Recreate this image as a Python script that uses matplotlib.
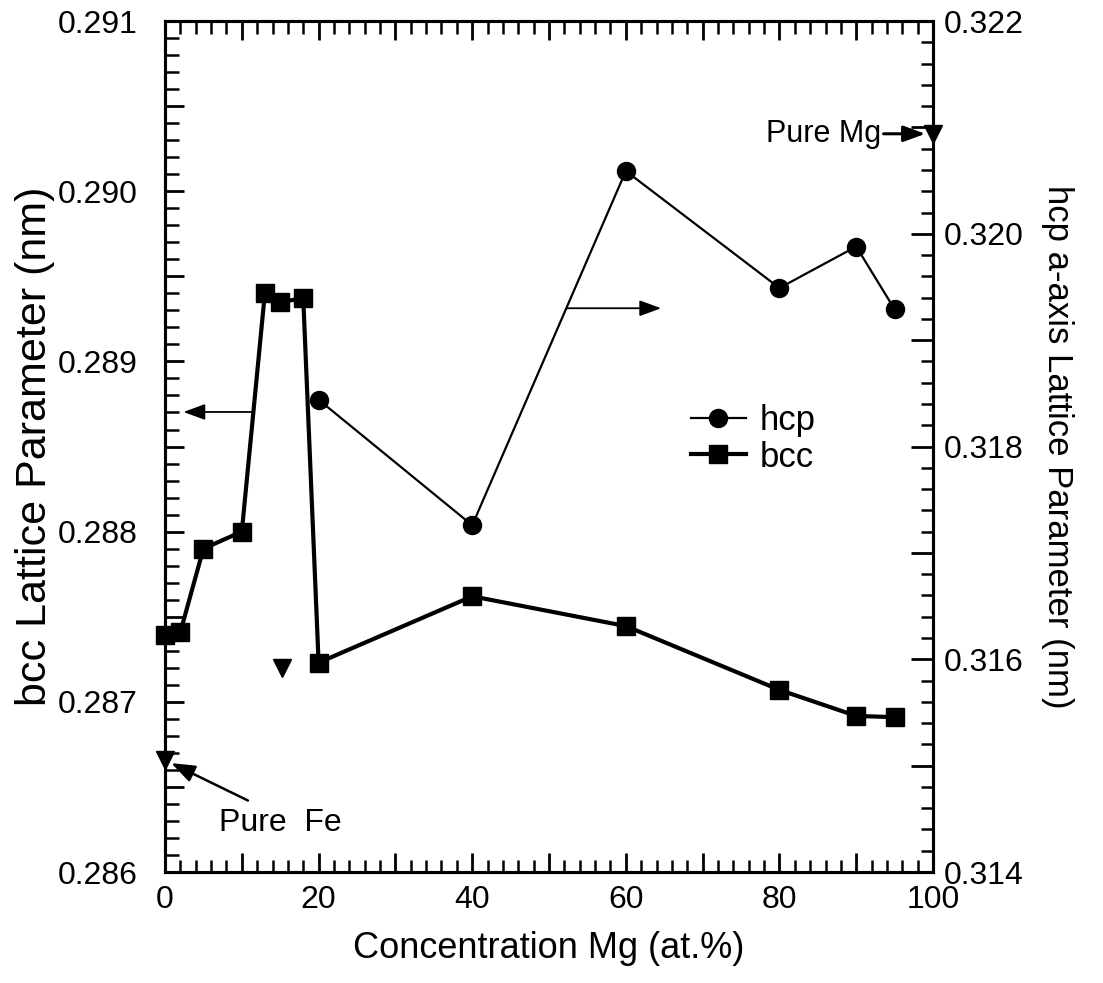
import matplotlib
matplotlib.use("Agg")
import matplotlib.pyplot as plt
from matplotlib.ticker import MultipleLocator, FuncFormatter

plt.rcParams['font.family'] = ['Liberation Sans', 'DejaVu Sans']

# bcc lattice parameter (left axis, nm)
bcc_conc = [0, 2, 5, 10, 13, 15, 18, 20, 40, 60, 80, 90, 95]
bcc_a = [0.28739, 0.28741, 0.28790, 0.28800, 0.28940, 0.28935, 0.28937,
         0.28723, 0.28762, 0.287445, 0.28707, 0.286917, 0.28691]

# hcp a-axis lattice parameter (right axis, nm)
hcp_conc = [20, 40, 60, 80, 90, 95]
hcp_a = [0.31844, 0.31726, 0.32059, 0.31949, 0.31988, 0.31929]

# reference values for the pure metals and an extra bcc point
pure_fe = (0, 0.28666)
pure_mg = (100, 0.32094)
extra_bcc = (15.2, 0.28720)

x_labels = [0, 20, 40, 60, 80, 100]
bcc_labels = [0.286, 0.287, 0.288, 0.289, 0.290, 0.291]

rect = [0.1496, 0.1129, 0.6963, 0.8657]
fig = plt.figure(figsize=(11.03, 9.83), dpi=100)
ax = fig.add_axes(rect)
ax2 = ax.twinx()

ax.set_xlim(0, 100)
ax.set_ylim(0.286, 0.291)
ax2.set_ylim(0.314, 0.322)

# bcc series
ax.plot(bcc_conc, bcc_a, color='black', lw=3.0, marker='s', ms=13,
        clip_on=False, zorder=3, label='bcc')
ax.plot([extra_bcc[0]], [extra_bcc[1]], marker='v', ms=13, color='black',
        ls='none', clip_on=False)
ax.plot([pure_fe[0]], [pure_fe[1]], marker='v', ms=13, color='black',
        ls='none', clip_on=False, zorder=4)

# hcp series
ax2.plot(hcp_conc, hcp_a, color='black', lw=1.6, marker='o', ms=13,
         clip_on=False, zorder=3, label='hcp')
ax2.plot([pure_mg[0]], [pure_mg[1]], marker='v', ms=13, color='black',
         ls='none', clip_on=False, zorder=4)

head = '-|>,head_length=0.6,head_width=0.22'

# axis-indicating arrows
ax.annotate('', xy=(2.4, 0.288703), xytext=(11.4, 0.288703),
            arrowprops=dict(arrowstyle=head, color='black', lw=1.3,
                            mutation_scale=22, shrinkA=0, shrinkB=0))
ax2.annotate('', xy=(64.6, 0.31930), xytext=(52.3, 0.31930),
             arrowprops=dict(arrowstyle=head, color='black', lw=1.3,
                             mutation_scale=22, shrinkA=0, shrinkB=0))

# pure metal labels
ax.text(7.0, 0.28629, 'Pure  Fe', fontsize=23, ha='left', va='center')
ax.annotate('', xy=(0.8, 0.28664), xytext=(10.8, 0.28642),
            arrowprops=dict(arrowstyle=head, color='black', lw=1.8,
                            mutation_scale=24, shrinkA=0, shrinkB=0))
ax2.annotate('Pure Mg', xy=(99.0, pure_mg[1]), xytext=(93.2, pure_mg[1]),
             fontsize=22, ha='right', va='center',
             arrowprops=dict(arrowstyle=head, color='black', lw=2.2,
                             mutation_scale=22, shrinkA=0, shrinkB=0))

# ticks: labelled majors, unlabelled half-steps, fine minors
def every(step, fmt):
    def f(v, pos):
        r = v / step
        return fmt.format(v) if abs(r - round(r)) < 1e-6 else ''
    return FuncFormatter(f)

ax.xaxis.set_major_locator(MultipleLocator(10))
ax.xaxis.set_minor_locator(MultipleLocator(2))
ax.xaxis.set_major_formatter(every(20, '{:.0f}'))
ax.yaxis.set_major_locator(MultipleLocator(0.0005))
ax.yaxis.set_minor_locator(MultipleLocator(0.0001))
ax.yaxis.set_major_formatter(every(0.001, '{:.3f}'))
ax2.yaxis.set_major_locator(MultipleLocator(0.001))
ax2.yaxis.set_minor_locator(MultipleLocator(0.0002))
ax2.yaxis.set_major_formatter(every(0.002, '{:.3f}'))

ax.tick_params(axis='x', which='both', direction='in', top=True, bottom=True,
               labelsize=23, pad=9)
ax.tick_params(axis='x', which='major', length=14, width=2)
ax.tick_params(axis='x', which='minor', length=9, width=1.8)
ax.tick_params(axis='y', which='both', direction='in', left=True, right=False,
               labelsize=23, pad=20)
ax.tick_params(axis='y', which='major', length=14, width=2)
ax.tick_params(axis='y', which='minor', length=10, width=1.8)
ax2.tick_params(axis='y', which='both', direction='in', right=True,
                labelsize=23, pad=8)
ax2.tick_params(axis='y', which='major', length=16, width=2)
ax2.tick_params(axis='y', which='minor', length=9, width=1.8)

# longer ticks at the labelled positions
ax3 = fig.add_axes(rect, frameon=False, zorder=-1)
ax3.set_xlim(ax.get_xlim())
ax3.set_ylim(ax.get_ylim())
ax3.set_xticks(x_labels)
ax3.set_yticks(bcc_labels)
ax3.tick_params(axis='both', direction='in', length=19, width=2,
                top=True, bottom=True, left=True, right=False,
                labelbottom=False, labelleft=False)

for s in ax.spines.values():
    s.set_linewidth(2.2)
for s in ax2.spines.values():
    s.set_linewidth(2.2)

ax.set_xlabel('Concentration Mg (at.%)', fontsize=26, labelpad=12)
ax.set_ylabel('bcc Lattice Parameter (nm)', fontsize=31)
ax.yaxis.set_label_coords(-0.143, 0.5)
ax2.set_ylabel('hcp a-axis Lattice Parameter (nm)', fontsize=25,
               rotation=270, labelpad=36)

# legend
h1, l1 = ax2.get_legend_handles_labels()
h2, l2 = ax.get_legend_handles_labels()
ax2.legend(h1 + h2, l1 + l2, loc='center', bbox_to_anchor=(0.766, 0.509),
           frameon=False, fontsize=25, handlelength=1.6, handletextpad=0.4,
           labelspacing=0.1, borderpad=0)

fig.savefig('out.png', dpi=100)
